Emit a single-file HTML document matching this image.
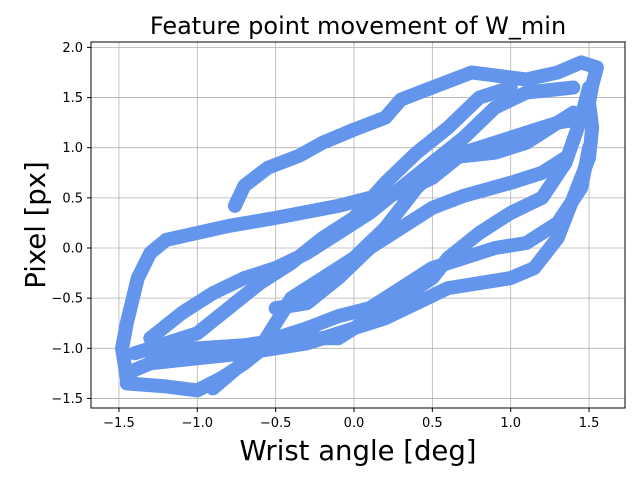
<!DOCTYPE html>
<html><head><meta charset="utf-8"><style>
body{margin:0;background:#fff;}
svg{display:block;font-family:"DejaVu Sans","Liberation Sans",sans-serif;}
</style></head><body>
<svg id="chart" width="640" height="480">
<text x="358" y="34" text-anchor="middle" font-size="24">Feature point movement of W_min</text>
<g id="grid"></g>
<g id="series"></g>
<rect x="91" y="42" width="534" height="366" fill="none" stroke="#000" stroke-width="1"/>
<g id="ticks"></g>
<text x="358" y="460" text-anchor="middle" font-size="27.5">Wrist angle [deg]</text>
<text transform="translate(45,225) rotate(-90)" text-anchor="middle" font-size="27.5">Pixel [px]</text>
</svg>
<script>
const xTicks=[-1.5,-1.0,-0.5,0.0,0.5,1.0,1.5];
const yTicks=[-1.5,-1.0,-0.5,0.0,0.5,1.0,1.5,2.0];
const sA_x=[-0.76,-0.7,-0.55,-0.35,-0.2,0,0.2,0.3,0.5,0.75,0.9,1.1,1.3,1.45,1.55,1.52,1.5,1.52,1.5,1.4,1.3,1.15,1.0,0.6,0.4,0.2,0,-0.3,-0.7,-1.0,-1.3,-1.45];
const sA_y=[0.42,0.62,0.8,0.92,1.05,1.18,1.3,1.48,1.6,1.75,1.72,1.68,1.75,1.85,1.8,1.62,1.45,1.2,0.9,0.5,0.1,-0.2,-0.3,-0.4,-0.55,-0.7,-0.8,-0.95,-1.05,-1.1,-1.15,-1.25];
const sB_x=[-1.45,-1.48,-1.45,-1.38,-1.3,-1.2,-1.0,-0.8,-0.5,-0.3,-0.1,0.1,0.3,0.5,0.7,0.9,1.1,1.3,1.5];
const sB_y=[-1.3,-1.0,-0.75,-0.3,-0.05,0.08,0.15,0.22,0.3,0.36,0.42,0.5,0.55,0.7,0.95,1.05,1.15,1.25,1.3];
const sC_x=[-1.45,-1.2,-1.0,-0.85,-0.7,-0.5,-0.3,-0.1,0.1,0.3,0.5,0.7,0.9,1.1,1.3,1.45,1.5];
const sC_y=[-1.35,-1.38,-1.42,-1.3,-1.15,-0.9,-0.8,-0.68,-0.6,-0.4,-0.2,-0.1,0.0,0.05,0.25,0.6,1.0];
const sD_x=[-1.3,-1.1,-0.9,-0.7,-0.5,-0.3,-0.1,0.1,0.3,0.5,0.7,0.9,1.1,1.4];
const sD_y=[-0.9,-0.65,-0.45,-0.3,-0.2,-0.05,0.15,0.35,0.6,0.85,1.1,1.4,1.55,1.6];
const sE_x=[-1.4,-1.2,-1.0,-0.8,-0.6,-0.4,-0.2,0.0,0.2,0.4,0.6,0.8,1.0];
const sE_y=[-1.05,-0.95,-0.85,-0.6,-0.35,-0.15,0.1,0.3,0.65,0.95,1.2,1.5,1.6];
const sF_x=[-1.3,-1.0,-0.7,-0.4,-0.1,0.1,0.3,0.5,0.6,0.8,1.0,1.2,1.35,1.45,1.5];
const sF_y=[-1.05,-1.0,-0.97,-0.9,-0.9,-0.7,-0.5,-0.3,-0.1,0.15,0.35,0.5,0.85,1.3,1.6];
const sG_x=[-0.9,-0.6,-0.4,-0.2,0.0,0.2,0.4,0.6,0.9,1.1,1.4];
const sG_y=[-1.4,-1.0,-0.5,-0.3,-0.1,0.2,0.6,0.9,0.95,1.05,1.35];
const sH_x=[-0.5,-0.3,-0.1,0.1,0.3,0.5,0.7,1.0,1.2,1.35];
const sH_y=[-0.6,-0.55,-0.3,0.0,0.2,0.4,0.52,0.65,0.75,0.9];
const strandsX=[sA_x,sB_x,sC_x,sD_x,sE_x,sF_x,sG_x,sH_x];
const strandsY=[sA_y,sB_y,sC_y,sD_y,sE_y,sF_y,sG_y,sH_y];

const NS='http://www.w3.org/2000/svg';
function sx(v){return 354+v*156.7;}
function sy(v){return 248-v*100.3;}
const grid=document.getElementById('grid'),ticks=document.getElementById('ticks'),ser=document.getElementById('series');
xTicks.forEach(t=>{
  const g=document.createElementNS(NS,'line');
  
  
  g.setAttribute('x1',sx(t));g.setAttribute('x2',sx(t));g.setAttribute('y1',42);g.setAttribute('y2',408);
  g.setAttribute('stroke','#b0b0b0');g.setAttribute('stroke-width','0.8');grid.appendChild(g);
  const tk=document.createElementNS(NS,'line');
  
  
  tk.setAttribute('x1',sx(t));tk.setAttribute('x2',sx(t));tk.setAttribute('y1',408);tk.setAttribute('y2',412);tk.setAttribute('stroke','#000');ticks.appendChild(tk);
  const tx=document.createElementNS(NS,'text');
  
  
  tx.setAttribute('x',sx(t));tx.setAttribute('y',427);tx.setAttribute('text-anchor','middle');tx.setAttribute('font-size','13');
  tx.textContent=t.toFixed(1).replace('-','\u2212');ticks.appendChild(tx);
});
yTicks.forEach(t=>{
  const g=document.createElementNS(NS,'line');
  
  
  g.setAttribute('x1',91);g.setAttribute('x2',625);g.setAttribute('y1',sy(t));g.setAttribute('y2',sy(t));
  g.setAttribute('stroke','#b0b0b0');g.setAttribute('stroke-width','0.8');grid.appendChild(g);
  const tk=document.createElementNS(NS,'line');
  
  
  tk.setAttribute('x1',87);tk.setAttribute('x2',91);tk.setAttribute('y1',sy(t));tk.setAttribute('y2',sy(t));tk.setAttribute('stroke','#000');ticks.appendChild(tk);
  const tx=document.createElementNS(NS,'text');
  
  
  tx.setAttribute('x',83);tx.setAttribute('y',sy(t)+4.5);tx.setAttribute('text-anchor','end');tx.setAttribute('font-size','13');
  tx.textContent=t.toFixed(1).replace('-','\u2212');ticks.appendChild(tx);
});
strandsX.forEach((xs,i)=>{
  const ys=strandsY[i];
  const p=document.createElementNS(NS,'polyline');
  
  
  p.setAttribute('points',xs.map((x,j)=>sx(x)+','+sy(ys[j])).join(' '));
  p.setAttribute('fill','none');p.setAttribute('stroke','#6495ED');p.setAttribute('stroke-width','14');
  p.setAttribute('stroke-linecap','round');p.setAttribute('stroke-linejoin','round');
  ser.appendChild(p);
});
</script>
</body></html>
